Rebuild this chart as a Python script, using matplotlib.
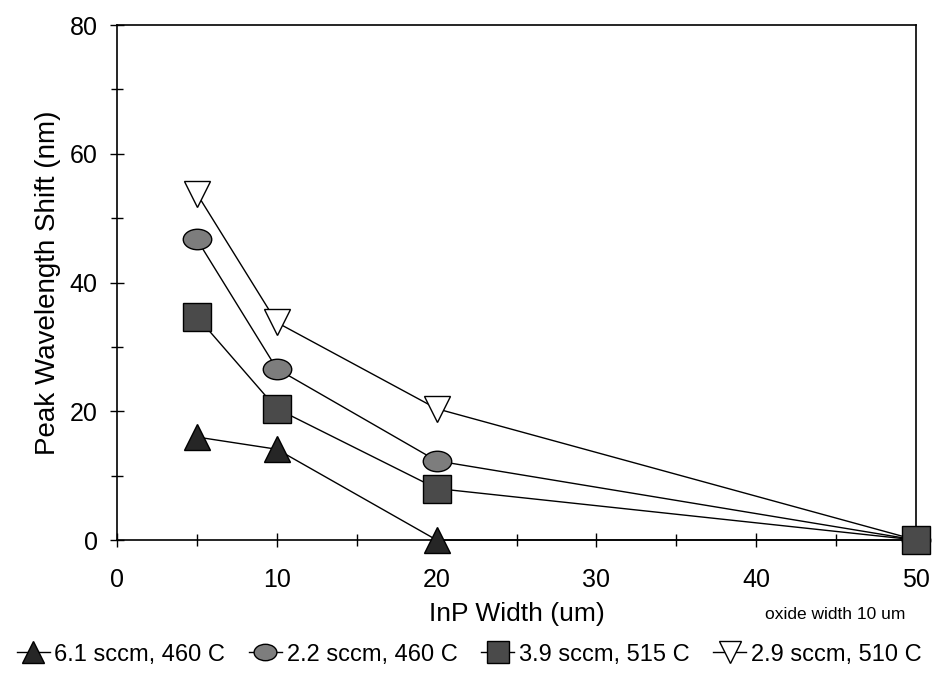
import matplotlib.pyplot as plt
from matplotlib.path import Path
import numpy as np

plt.rcParams['font.family'] = ['Liberation Sans', 'DejaVu Sans']

# InP width (um) and peak wavelength shift (nm)
x = [5, 10, 20, 50]
s_61 = [16.0, 14.1, 0.0, 0.0]
s_22 = [46.7, 26.6, 12.3, 0.0]
s_39 = [34.7, 20.4, 8.0, 0.0]
s_29 = [53.8, 33.8, 20.4, 0.0]
labels = ["6.1 sccm, 460 C", "2.2 sccm, 460 C", "3.9 sccm, 515 C", "2.9 sccm, 510 C"]

# oval marker
circ = Path.unit_circle()
oval = Path(circ.vertices * np.array([1.0, 0.72]), circ.codes)

fig = plt.figure(figsize=(9.38, 6.95), dpi=100)
ax = fig.add_axes([0.1247, 0.223, 0.852, 0.741])

# (data, marker, face colour, size, zorder) -- square drawn on top at x=50
styles = [
    (s_61, '^', '#262626', 19, 4),
    (s_22, oval, '#7d7d7d', 20.5, 4),
    (s_39, 's', '#4a4a4a', 20, 6),
    (s_29, 'v', 'white', 19, 3),
]
handles = []
for (y, m, fc, ms, z), lab in zip(styles, labels):
    h, = ax.plot(x, y, color='black', lw=1.0, marker=m, markersize=ms,
                 markerfacecolor=fc, markeredgecolor='black', markeredgewidth=1.0,
                 clip_on=False, zorder=z, label=lab)
    handles.append(h)

ax.set_xlim(0, 50)
ax.set_ylim(0, 80)
ax.set_xticks([0, 10, 20, 30, 40, 50])
ax.set_xticks([5, 15, 25, 35, 45], minor=True)
ax.set_yticks([0, 20, 40, 60, 80])
ax.set_yticks([10, 30, 50, 70], minor=True)
ax.tick_params(which='major', direction='inout', length=10, width=1, labelsize=18)
ax.tick_params(which='minor', direction='inout', length=9, width=1)
ax.tick_params(axis='x', which='major', pad=15)
ax.tick_params(axis='y', which='major', pad=9)
for sp in ax.spines.values():
    sp.set_linewidth(1.2)

ax.set_xlabel("InP Width (um)", fontsize=19, labelpad=7)
ax.set_ylabel("Peak Wavelength Shift (nm)", fontsize=20, labelpad=6)
fig.text(0.89, 0.116, "oxide width 10 um", fontsize=12.5, ha='center', va='center')

fig.legend(handles=handles, loc='center', bbox_to_anchor=(0.5, 0.058), ncol=4,
           frameon=False, fontsize=17, handlelength=1.4, handletextpad=0.2,
           columnspacing=1.0, markerscale=0.8)

plt.savefig("out.png", dpi=100)
